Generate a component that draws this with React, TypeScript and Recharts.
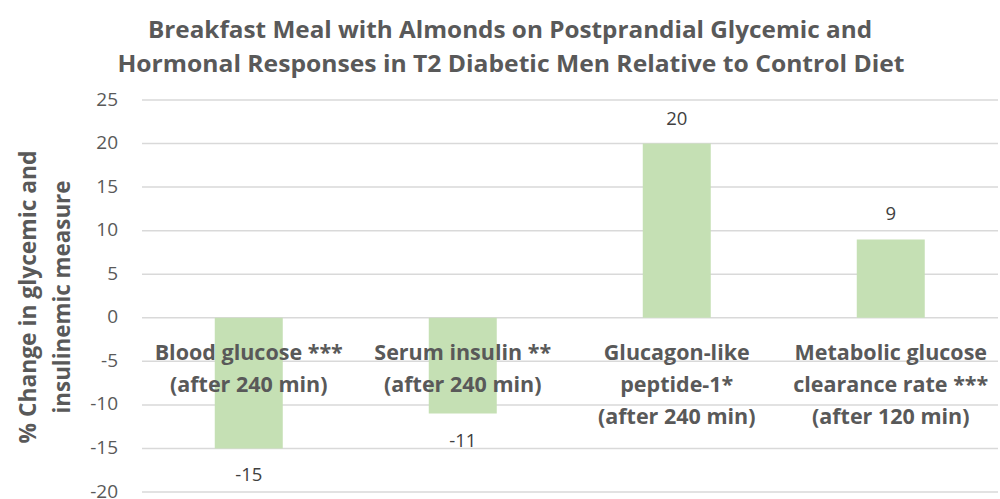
import { BarChart, Bar, XAxis, YAxis, CartesianGrid, LabelList } from 'recharts';

const categories: string[][] = [
  ['Blood glucose ***', '(after 240 min)'],
  ['Serum insulin **', '(after 240 min)'],
  ['Glucagon-like', 'peptide-1*', '(after 240 min)'],
  ['Metabolic glucose', 'clearance rate ***', '(after 120 min)'],
];
const changes = [-15, -11, 20, 9];
const yTicks = [-20, -15, -10, -5, 0, 5, 10, 15, 20, 25];
const titleLines = [
  'Breakfast Meal with Almonds on Postprandial Glycemic and',
  'Hormonal Responses in T2 Diabetic Men Relative to Control Diet',
];
const yLabelLines = ['% Change in glycemic and', 'insulinemic measure'];

const data = categories.map((lines, i) => ({ name: lines.join(' '), idx: i, value: changes[i] }));

const FONT = '"Open Sans", "Liberation Sans", sans-serif';
const GREY = '#595959';

function YTick(props: any) {
  const { y, payload } = props;
  return (
    <text x={118} y={y} dy={5.5} textAnchor="end" fill={GREY} fontSize={19} fontFamily={FONT}>
      {payload.value}
    </text>
  );
}

function ValueLabel(props: any) {
  const { x, y, width, height, value } = props;
  const top = Math.min(y, y + height);
  const bottom = Math.max(y, y + height);
  const ly = value >= 0 ? top - 19 : bottom + 33;
  return (
    <text x={x + width / 2} y={ly} textAnchor="middle" fill="#404040" fontSize={18.5} fontFamily={FONT}>
      {value}
    </text>
  );
}

function CategoryLabel(props: any) {
  const { x, y, width, height, value, index } = props;
  const top = Math.min(y, y + height);
  const bottom = Math.max(y, y + height);
  const zeroY = value >= 0 ? bottom : top;
  const lines = categories[index] ?? [];
  return (
    <text textAnchor="middle" fill={GREY} fontSize={21.5} fontWeight="bold" fontFamily={FONT}>
      {lines.map((l, i) => (
        <tspan key={i} x={x + width / 2} y={zeroY + 42 + i * 32}>
          {l}
        </tspan>
      ))}
    </text>
  );
}

export default function App() {
  return (
    <div style={{ position: 'fixed', left: 0, top: 0, width: 1000, height: 499, background: '#fff' }}>
      <BarChart
        width={1000}
        height={499}
        data={data}
        margin={{ top: 100, right: 2, bottom: 7, left: 0 }}
        barCategoryGap="34%"
      >
        <CartesianGrid vertical={false} stroke="#d9d9d9" strokeWidth={1.5} />
        <XAxis dataKey="name" hide />
        <YAxis
          width={142}
          domain={[-20, 25]}
          ticks={yTicks}
          interval={0}
          axisLine={false}
          tickLine={false}
          tick={<YTick />}
        />
        <Bar dataKey="value" fill="#c5e0b4" isAnimationActive={false}>
          <LabelList dataKey="value" content={<ValueLabel />} />
          <LabelList dataKey="value" content={<CategoryLabel />} />
        </Bar>
      </BarChart>
      <svg width={1000} height={499} style={{ position: 'absolute', left: 0, top: 0, pointerEvents: 'none' }}>
        <text fill={GREY} fontSize={24} fontWeight="bold" fontFamily={FONT} textAnchor="middle">
          <tspan x={510} y={38} textLength={724} lengthAdjust="spacingAndGlyphs">{titleLines[0]}</tspan>
        </text>
        <text fill={GREY} fontSize={24} fontWeight="bold" fontFamily={FONT} textAnchor="middle">
          <tspan x={511} y={72} textLength={787} lengthAdjust="spacingAndGlyphs">{titleLines[1]}</tspan>
        </text>
        <text
          transform="translate(36,297) rotate(-90)"
          fill={GREY}
          fontSize={23}
          fontWeight="bold"
          fontFamily={FONT}
          textAnchor="middle"
          textLength={293}
          lengthAdjust="spacingAndGlyphs"
        >
          {yLabelLines[0]}
        </text>
        <text
          transform="translate(70,297) rotate(-90)"
          fill={GREY}
          fontSize={23}
          fontWeight="bold"
          fontFamily={FONT}
          textAnchor="middle"
          textLength={233}
          lengthAdjust="spacingAndGlyphs"
        >
          {yLabelLines[1]}
        </text>
      </svg>
    </div>
  );
}
